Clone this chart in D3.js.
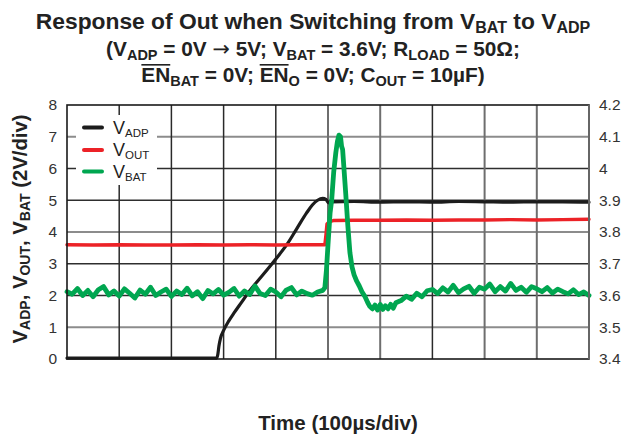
<!DOCTYPE html>
<html>
<head>
<meta charset="utf-8">
<script src="https://cdn.jsdelivr.net/npm/d3@7"></script>
<style>
  html, body { margin: 0; padding: 0; background: #fff; }
  svg { display: block; font-family: "Liberation Sans", Arial, sans-serif; }
</style>
</head>
<body>
<svg id="chart" width="626" height="434"></svg>
<script>
// Time base: microseconds, 100 µs per division, 10 divisions
const timeTicks = [0, 100, 200, 300, 400, 500, 600, 700, 800, 900, 1000];
const leftTicks = [0, 1, 2, 3, 4, 5, 6, 7, 8];
const rightTicks = [3.4, 3.5, 3.6, 3.7, 3.8, 3.9, 4.0, 4.1, 4.2];

// V_ADP (left axis, V)
const timeAdp = [0, 100, 200, 287, 289, 291, 294, 300, 310, 320, 335, 350, 365, 383, 400, 421, 440, 459, 470, 480, 490, 496, 501, 506, 550, 600, 650, 700, 750, 800, 850, 900, 950, 1000];
const vAdp =    [0.03, 0.03, 0.03, 0.03, 0.15, 0.4, 0.65, 0.9, 1.2, 1.45, 1.8, 2.15, 2.45, 2.8, 3.15, 3.6, 4.1, 4.6, 4.85, 5.0, 5.06, 5.03, 4.92, 4.95, 4.96, 4.94, 4.95, 4.94, 4.96, 4.95, 4.94, 4.95, 4.95, 4.94];

// V_OUT (left axis, V)
const timeOut = [0, 50, 100, 150, 200, 250, 300, 350, 400, 450, 494, 496, 498, 503, 510, 550, 600, 650, 700, 750, 800, 850, 900, 950, 1000];
const vOut =    [3.60, 3.59, 3.60, 3.59, 3.59, 3.60, 3.59, 3.60, 3.59, 3.60, 3.60, 3.9, 4.25, 4.33, 4.36, 4.37, 4.37, 4.38, 4.37, 4.38, 4.38, 4.39, 4.38, 4.39, 4.40];

// V_BAT (right axis, V)
const timeBat = [0, 10, 20, 30, 40, 50, 60, 70, 80, 90,
  100, 110, 120, 130, 140, 150, 160, 170, 180, 190,
  200, 210, 220, 230, 240, 250, 260, 270, 280, 290,
  300, 310, 320, 330, 340, 350, 360, 370, 380, 390,
  400, 410, 420, 430, 440, 450, 460, 470, 480, 490,
  494, 497, 500, 504, 507, 511, 515, 518, 521, 524, 526, 528, 531, 534, 538, 542, 546, 550, 555, 560, 565, 571, 576,
  580, 585, 590, 595, 600, 605, 610, 615, 620, 625, 630, 640, 650, 660, 670, 680, 690,
  700, 710, 720, 730, 740, 750, 760, 770, 780, 790,
  800, 810, 820, 830, 840, 850, 860, 870, 880, 890,
  900, 910, 920, 930, 940, 950, 960, 970, 980, 990, 1000];
const vBat = [3.612, 3.604, 3.622, 3.600, 3.616, 3.596, 3.618, 3.628, 3.602, 3.614,
  3.598, 3.621, 3.607, 3.592, 3.617, 3.604, 3.626, 3.600, 3.611, 3.620,
  3.597, 3.614, 3.603, 3.623, 3.599, 3.612, 3.590, 3.616, 3.605, 3.619,
  3.601, 3.610, 3.622, 3.598, 3.614, 3.603, 3.630, 3.606, 3.600, 3.620,
  3.611, 3.596, 3.617, 3.625, 3.602, 3.614, 3.606, 3.601, 3.611, 3.616,
  3.625, 3.680, 3.760, 3.860, 3.900, 3.990, 4.050, 4.085, 4.105, 4.100, 4.070, 4.060, 3.990, 3.920, 3.820, 3.735, 3.690, 3.665, 3.645, 3.630, 3.612, 3.596, 3.578,
  3.566, 3.558, 3.570, 3.554, 3.572, 3.556, 3.568, 3.558, 3.572, 3.560, 3.577, 3.584, 3.598, 3.588, 3.607, 3.596, 3.615,
  3.619, 3.606, 3.624, 3.611, 3.632, 3.609, 3.621, 3.629, 3.607, 3.626,
  3.620, 3.636, 3.612, 3.628, 3.614, 3.638, 3.616, 3.626, 3.610, 3.628,
  3.621, 3.612, 3.625, 3.608, 3.620, 3.612, 3.605, 3.618, 3.603, 3.611, 3.600];

const legendNames = [["V", "ADP"], ["V", "OUT"], ["V", "BAT"]];
const seriesColors = ["#1c1c1c", "#ec2227", "#00a650"];

const svg = d3.select("#chart");
const plot = { left: 67, right: 589, top: 105, bottom: 359 };

const x = d3.scaleLinear().domain([0, 1000]).range([plot.left, plot.right]);
const yL = d3.scaleLinear().domain([0, 8]).range([plot.bottom, plot.top]);
const yR = d3.scaleLinear().domain([3.4, 4.2]).range([plot.bottom, plot.top]);

// Grid: horizontal lines every division, some drawn lighter
const lightRows = new Set([1, 4, 7]);
svg.append("g").selectAll("line")
  .data(leftTicks.filter(d => d > 0 && d < 8))
  .join("line")
  .attr("x1", plot.left).attr("x2", plot.right)
  .attr("y1", d => yL(d)).attr("y2", d => yL(d))
  .attr("stroke", d => lightRows.has(d) ? "#8c8c8c" : "#2e2e2e")
  .attr("stroke-width", d => lightRows.has(d) ? 2 : 1.5);

const lightCols = new Set([500, 600, 800, 900]);
svg.append("g").selectAll("line")
  .data(timeTicks.filter(d => d > 0 && d < 1000))
  .join("line")
  .attr("x1", d => x(d)).attr("x2", d => x(d))
  .attr("y1", plot.top).attr("y2", plot.bottom)
  .attr("stroke", d => lightCols.has(d) ? "#6e6e6e" : "#2a2a2a")
  .attr("stroke-width", d => lightCols.has(d) ? 2 : 1.5);

// Axes (labels only)
const axL = svg.append("g").attr("transform", `translate(${plot.left},0)`)
  .call(d3.axisLeft(yL).tickValues(leftTicks).tickSize(0).tickPadding(10).tickFormat(d3.format("d")));
const axR = svg.append("g").attr("transform", `translate(${plot.right},0)`)
  .call(d3.axisRight(yR).tickValues(rightTicks).tickSize(0).tickPadding(10).tickFormat(d => d === 4 ? "4" : d3.format(".1f")(d)));
[axL, axR].forEach(a => {
  a.select(".domain").remove();
  a.selectAll("text").attr("font-size", 15.5).attr("fill", "#333")
    .attr("font-family", "'Liberation Sans', Arial, sans-serif");
});

// Traces
const lineL = d3.line().x(d => x(d[0])).y(d => yL(d[1]));
const lineR = d3.line().x(d => x(d[0])).y(d => yR(d[1]));
const g = svg.append("g").attr("stroke-linejoin", "round").attr("stroke-linecap", "round").attr("fill", "none");
g.append("path").datum(d3.zip(timeAdp, vAdp)).attr("d", lineL.curve(d3.curveMonotoneX))
  .attr("stroke", seriesColors[0]).attr("stroke-width", 3.2);
g.append("path").datum(d3.zip(timeOut, vOut)).attr("d", d3.line().x(d => x(d[0])).y(d => yL(d[1])))
  .attr("stroke", seriesColors[1]).attr("stroke-width", 3.4);
g.append("path").datum(d3.zip(timeBat, vBat)).attr("d", lineR)
  .attr("stroke", seriesColors[2]).attr("stroke-width", 4.8);

// Legend
const leg = svg.append("g");
leg.append("rect").attr("x", 76).attr("y", 115).attr("width", 81).attr("height", 70).attr("fill", "#fff");
const rows = leg.selectAll("g").data(legendNames).join("g")
  .attr("transform", (d, i) => `translate(0,${[127.5, 150, 171.5][i]})`);
rows.append("line").attr("x1", 84).attr("x2", 102).attr("y1", 0).attr("y2", 0)
  .attr("stroke", (d, i) => seriesColors[i]).attr("stroke-width", 4).attr("stroke-linecap", "round");
const lt = rows.append("text").attr("x", 113).attr("y", 6).attr("fill", "#222").attr("font-size", 18);
lt.append("tspan").text(d => d[0]);
lt.append("tspan").attr("font-size", 11.5).attr("dy", 3).text(d => d[1]);

// Frame
svg.append("rect").attr("x", plot.left).attr("y", plot.top)
  .attr("width", plot.right - plot.left).attr("height", plot.bottom - plot.top)
  .attr("fill", "none").attr("stroke", "#1a1a1a").attr("stroke-width", 1.6);
svg.append("line").attr("x1", plot.right).attr("x2", plot.right).attr("y1", plot.top).attr("y2", plot.bottom)
  .attr("stroke", "#666").attr("stroke-width", 2);

// Rich text with subscripts; overlined runs get a drawn bar above the caps
function rich(sel, parts, size, subSize, shift) {
  let down = 0;
  const overs = [];
  parts.forEach(p => {
    const t = sel.append("tspan").text(p.t);
    const target = p.sub ? shift : 0;
    if (target !== down) { t.attr("dy", target - down); down = target; }
    t.attr("font-size", p.sub ? subSize : size);
    if (p.sym) t.attr("font-family", "'DejaVu Sans', sans-serif").attr("font-weight", "normal");
    if (p.over) overs.push(t);
  });
  const baseY = +sel.attr("y");
  overs.forEach(t => {
    const node = t.node();
    const x0 = node.getStartPositionOfChar(0).x;
    const w = node.getComputedTextLength();
    const yBar = baseY - size * 0.72 - 2.2;
    d3.select(sel.node().parentNode).append("line")
      .attr("x1", x0).attr("x2", x0 + w).attr("y1", yBar).attr("y2", yBar)
      .attr("stroke", "#222").attr("stroke-width", 1.6);
  });
  return sel;
}

const titleG = svg.append("g").attr("font-weight", "bold").attr("fill", "#222").attr("text-anchor", "middle");
rich(titleG.append("text").attr("x", 313).attr("y", 29),
  [{t: "Response of Out when Switching from V"}, {t: "BAT", sub: true}, {t: " to V"}, {t: "ADP", sub: true}],
  22.8, 16, 3.5);
rich(titleG.append("text").attr("x", 313).attr("y", 56),
  [{t: "(V"}, {t: "ADP", sub: true}, {t: " = 0V "}, {t: "\u2192", sym: true}, {t: " 5V; V"}, {t: "BAT", sub: true}, {t: " = 3.6V; R"}, {t: "LOAD", sub: true}, {t: " = 50\u03A9;"}],
  20.8, 14.5, 3.5);
rich(titleG.append("text").attr("x", 313).attr("y", 82),
  [{t: "EN", over: true}, {t: "BAT", sub: true}, {t: " = 0V; "}, {t: "EN", over: true}, {t: "O", sub: true}, {t: " = 0V; C"}, {t: "OUT", sub: true}, {t: " = 10\u00B5F)"}],
  20.8, 14.5, 3.5);

// Axis titles
rich(svg.append("text").attr("transform", "translate(27,229) rotate(-90)")
  .attr("text-anchor", "middle").attr("font-weight", "bold").attr("fill", "#222"),
  [{t: "V"}, {t: "ADP", sub: true}, {t: ", V"}, {t: "OUT", sub: true}, {t: ", V"}, {t: "BAT", sub: true}, {t: " (2V/div)"}],
  20.3, 14, 3);
svg.append("text").attr("x", 338).attr("y", 430).attr("text-anchor", "middle")
  .attr("font-weight", "bold").attr("font-size", 20.5).attr("fill", "#222").text("Time (100\u00B5s/div)");
</script>
</body>
</html>
